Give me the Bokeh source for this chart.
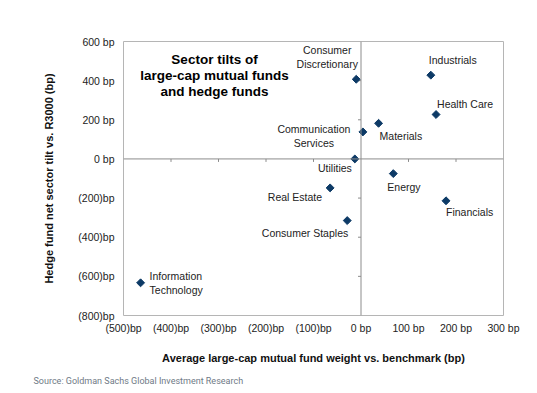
from bokeh.plotting import figure
from bokeh.models import ColumnDataSource, FixedTicker, Span, Label, Title
from bokeh.core.properties import value
from bokeh.embed import file_html
from bokeh.resources import INLINE

# ---- data ----
sectors = ["Consumer\nDiscretionary", "Industrials", "Health Care", "Materials",
           "Communication\nServices", "Utilities", "Energy", "Real Estate",
           "Financials", "Consumer Staples", "Information\nTechnology"]
mf_weight = [-10, 147, 158, 37, 4, -13, 68, -65, 179, -29, -464]
hf_tilt = [407, 428, 227, 182, 138, 0, -75, -148, -214, -315, -633]

x_ticks = [-500, -400, -300, -200, -100, 0, 100, 200, 300]
x_tick_labels = ["(500)bp", "(400)bp", "(300)bp", "(200)bp", "(100)bp",
                 "0 bp", "100 bp", "200 bp", "300 bp"]
y_ticks = [-800, -600, -400, -200, 0, 200, 400, 600]
y_tick_labels = ["(800)bp", "(600)bp", "(400)bp", "(200)bp", "0 bp",
                 "200 bp", "400 bp", "600 bp"]

title_lines = ["Sector tilts of", "large-cap mutual funds", "and hedge funds"]
x_title = "Average large-cap mutual fund weight vs. benchmark (bp)"
y_title = "Hedge fund net sector tilt vs. R3000 (bp)"
source_note = "Source: Goldman Sachs Global Investment Research"

# ---- label placement (pixels relative to point) ----
label_dx = [-29, -2, 1, 1, -49, -3, -6, -8, 0, 1, 9]
label_dy = [-22, -15, -11, 13, 4, 9, 13, 9, 11, 12, 0]
label_align = ["center", "left", "left", "left", "center", "right", "left",
               "right", "left", "right", "left"]

FONT = "Liberation Sans"
W, H = 530, 392
ML, MR, MT, MB = 123, 27, 41, 77

p = figure(width=W, height=H, x_range=(x_ticks[0], x_ticks[-1]),
           y_range=(y_ticks[0], y_ticks[-1]), output_backend="svg",
           toolbar_location=None, min_border_left=ML, min_border_right=MR,
           min_border_top=MT, min_border_bottom=MB)
p.background_fill_color = "white"
p.border_fill_color = "white"
p.outline_line_color = "#b5b5b5"
p.outline_line_width = 1
p.grid.visible = False

for ax in (p.xaxis[0], p.yaxis[0]):
    ax.axis_line_color = None
    ax.major_tick_line_color = None
    ax.minor_tick_line_color = None
    ax.major_tick_out = 0
    ax.major_tick_in = 0
    ax.major_label_text_font = FONT
    ax.major_label_text_font_size = "10.5px"
    ax.major_label_text_color = "#222222"
    ax.axis_label_text_font = FONT
    ax.axis_label_text_font_size = "11px"
    ax.axis_label_text_font_style = "bold"
    ax.axis_label_text_color = "#111111"

p.xaxis[0].ticker = FixedTicker(ticks=x_ticks)
p.xaxis[0].major_label_overrides = dict(zip(x_ticks, x_tick_labels))
p.xaxis[0].major_label_standoff = 6
p.xaxis[0].axis_label = x_title
p.xaxis[0].axis_label_standoff = 15

p.yaxis[0].ticker = FixedTicker(ticks=y_ticks)
p.yaxis[0].major_label_overrides = dict(zip(y_ticks, y_tick_labels))
p.yaxis[0].major_label_standoff = 9
p.yaxis[0].axis_label = y_title
p.yaxis[0].axis_label_standoff = 20

# zero lines
p.add_layout(Span(location=0, dimension="width", line_color="#8c8c8c", line_width=1))
p.add_layout(Span(location=0, dimension="height", line_color="#8c8c8c", line_width=1))

# tick marks on the zero lines (3px long)
frame_w = W - ML - MR
frame_h = H - MT - MB
px_x = (x_ticks[-1] - x_ticks[0]) / frame_w
px_y = (y_ticks[-1] - y_ticks[0]) / frame_h
xt = [t for t in x_ticks[1:-1] if t != 0]
yt = [t for t in y_ticks[1:-1] if t != 0]
p.segment(x0=xt, x1=xt, y0=[0] * len(xt), y1=[-3 * px_y] * len(xt),
          line_color="#8c8c8c", line_width=1)
p.segment(x0=[0] * len(yt), x1=[-3 * px_x] * len(yt), y0=yt, y1=yt,
          line_color="#8c8c8c", line_width=1)

src = ColumnDataSource(dict(x=mf_weight, y=hf_tilt, name=sectors,
                            dx=label_dx, dy=label_dy, align=label_align))
p.scatter("x", "y", source=src, marker="square", angle=0.785398, size=5.6,
          fill_color="#0d3a66", line_color="#0d3a66")
p.text("x", "y", text="name", source=src, x_offset="dx", y_offset="dy",
       text_align="align", text_baseline="middle", text_font=value(FONT),
       text_font_size="10.5px", text_color="#222222", text_line_height=1.15)

for i, line in enumerate(title_lines):
    p.add_layout(Label(x=91, y=256 - 16 * i, x_units="screen", y_units="screen",
                       text=line, text_align="center", text_baseline="middle",
                       text_font=FONT, text_font_size="13.5px",
                       text_font_style="bold", text_color="#000000"))

p.add_layout(Title(text=source_note, align="left", offset=-90, standoff=14,
                   text_font="Roboto", text_font_size="9px",
                   text_font_style="normal", text_color="#6f7a86"), "below")

open("out.html", "w").write(file_html(p, INLINE))
